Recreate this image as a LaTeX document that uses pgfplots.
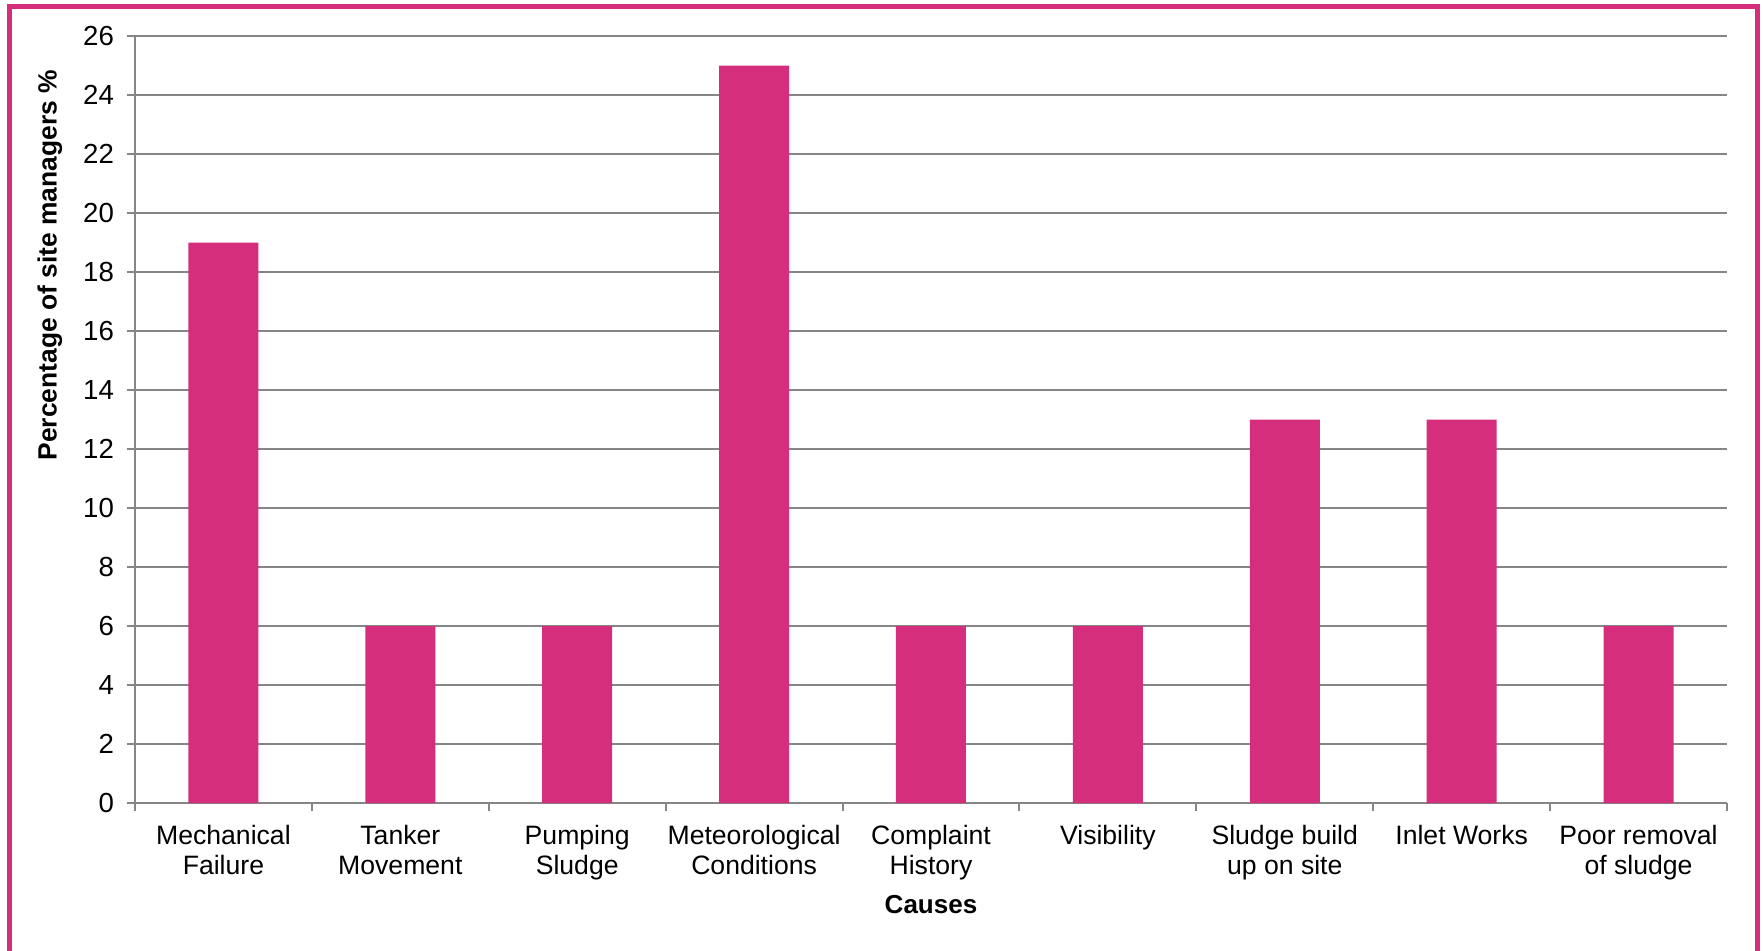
\documentclass[border=0pt]{standalone}
\usepackage{fontspec}
\setmainfont{Liberation Sans}
\usepackage{pgfplots}
\pgfplotsset{compat=1.18}
\definecolor{pinkbar}{RGB}{212,46,124}
\definecolor{gridgray}{RGB}{134,134,134}
\begin{document}
\begin{tikzpicture}
\useasboundingbox (-67.5pt,-73.5pt) rectangle (814pt,401.5pt);
\begin{axis}[
  at={(0,0)}, anchor=south west,
  scale only axis, width=796pt, height=383.5pt,
  xmin=-0.5, xmax=8.5, ymin=0, ymax=26,
  axis x line*=bottom, axis y line*=left,
  axis line style={-, gridgray, line width=1pt},
  tick style={gridgray, line width=1pt},
  tick align=outside, major tick length=4pt,
  ytick={0,2,...,26},
  ymajorgrids, grid style={gridgray, line width=0.9pt},
  xtick={-0.5,0.5,...,8.5}, xticklabels={,,,,,,,,,},
  extra x ticks={0,1,2,3,4,5,6,7,8},
  extra x tick labels={{Mechanical\\Failure},{Tanker\\Movement},{Pumping\\Sludge},{Meteorological\\Conditions},{Complaint\\History},{Visibility},{Sludge build\\up on site},{Inlet Works},{Poor removal\\of sludge}},
  extra x tick style={major tick length=0pt, grid=none},
  xticklabel style={align=center, font=\fontsize{13.3pt}{15.2pt}\selectfont, yshift=-7.5pt},
  yticklabel style={font=\fontsize{13.8pt}{16pt}\selectfont, xshift=-3pt},
  /pgf/number format/assume math mode=true,
  xlabel={\textbf{Causes}},
  xlabel style={at={(axis description cs:0.5,-0.133)}, anchor=center, font=\fontsize{13pt}{15pt}\selectfont},
  ylabel={\textbf{Percentage of site managers \%}},
  ylabel style={at={(axis description cs:-0.0535,0.701)}, anchor=center, font=\fontsize{13.2pt}{15pt}\selectfont},
]
\addplot[ybar, bar width=35pt, fill=pinkbar, draw=none] coordinates {
  (0,19) (1,6) (2,6) (3,25) (4,6) (5,6) (6,13) (7,13) (8,6)
};
\end{axis}
\draw[pinkbar, line width=2.5pt] (-62.5pt,-80pt) rectangle (811pt,398pt);
\end{tikzpicture}
\end{document}
